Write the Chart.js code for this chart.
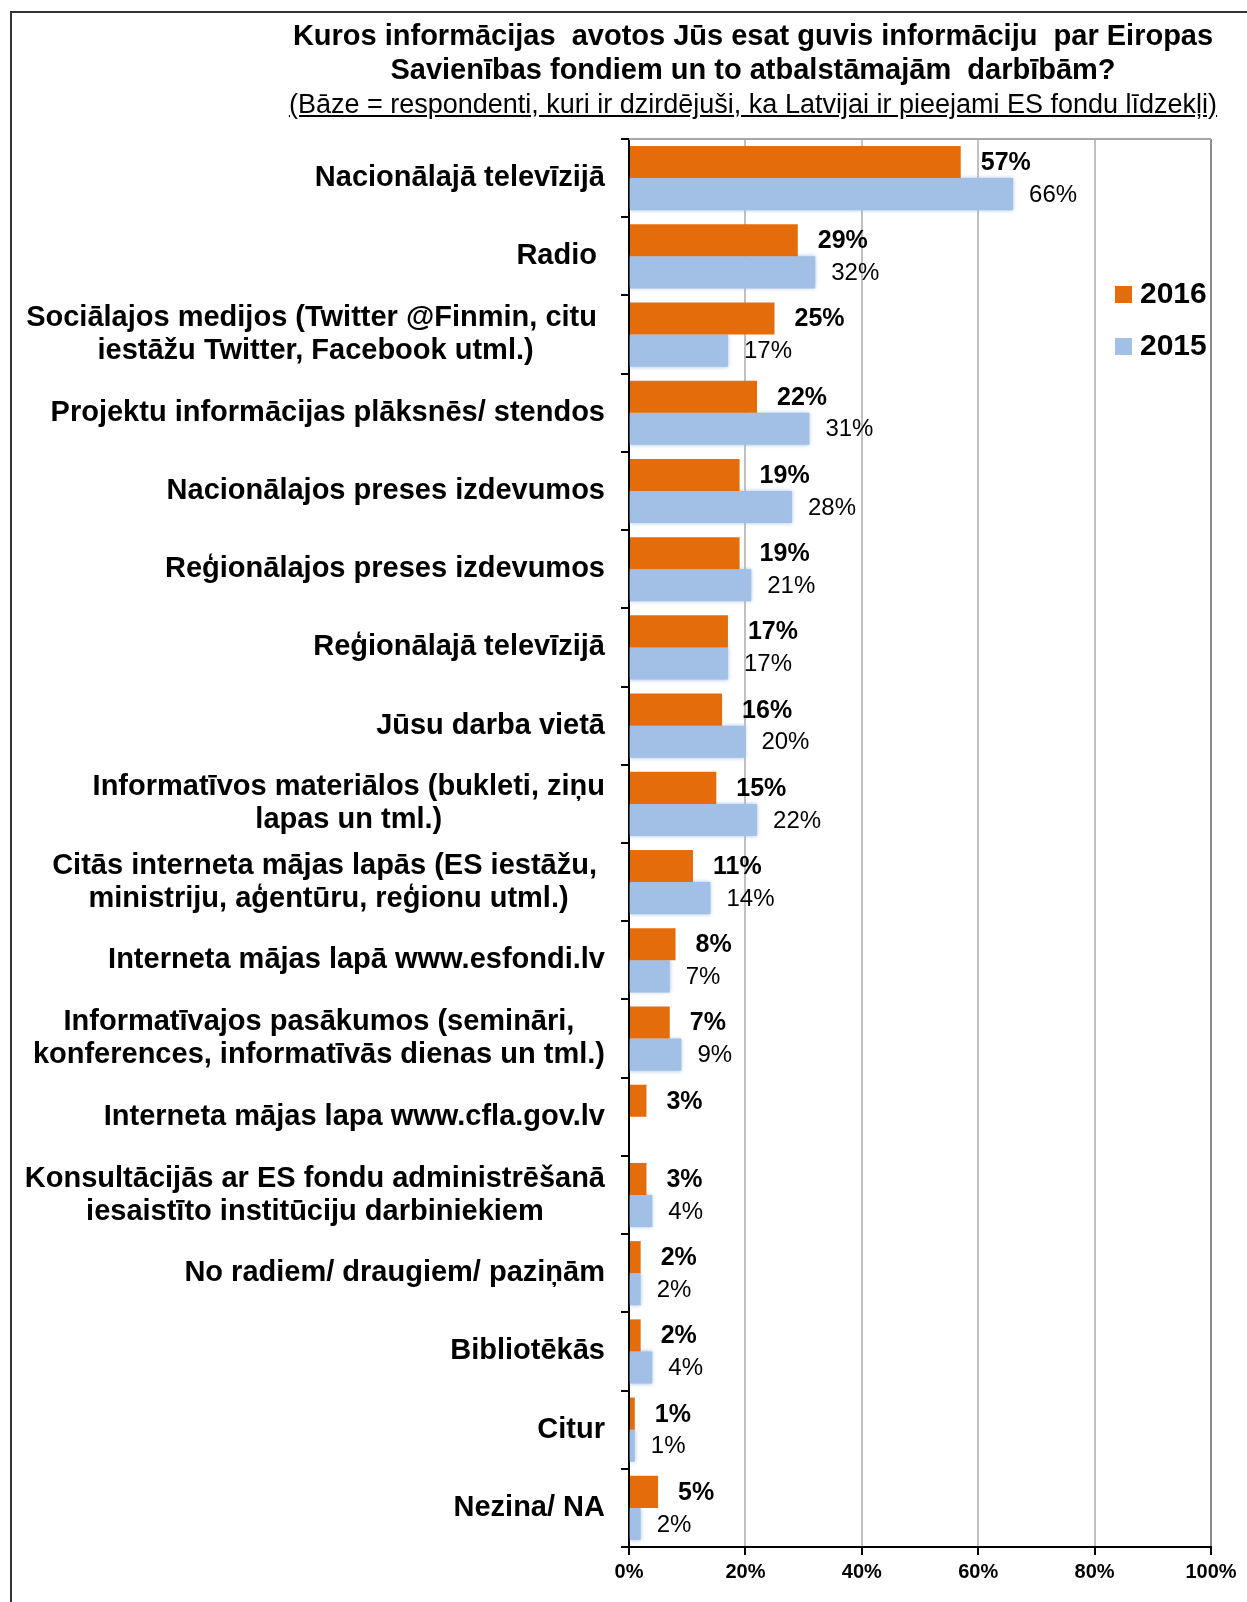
<!DOCTYPE html>
<html>
<head>
<meta charset="utf-8">
<script src="https://cdn.jsdelivr.net/npm/chart.js@4.4.1/dist/chart.umd.min.js"></script>
<style>
  body { margin: 0; background: #fff; font-family: "Liberation Sans", Arial, sans-serif; }
  #wrap { position: relative; width: 1247px; height: 1602px; overflow: hidden; }
  #frame { position: absolute; left: 10px; top: 11px; width: 1400px; height: 1800px; border-left: 2px solid #333; border-top: 2px solid #333; }
  #chartBox { position: absolute; left: 0; top: 0; width: 1247px; height: 1602px; }
  #title { position: absolute; left: 209px; width: 1088px; top: 18px; text-align: center; font-weight: bold; font-size: 29px; line-height: 34px; color: #000; white-space: pre; }
  #sub { font-weight: normal; font-size: 27px; line-height: 32px; text-decoration: underline; }
  .leg { position: absolute; left: 1115px; height: 34px; font-size: 30px; font-weight: bold; line-height: 34px; color: #000; }
  .leg span { display: inline-block; width: 17px; height: 17px; margin-right: 8px; vertical-align: 0px; }
</style>
</head>
<body>
<div id="wrap">
  <div id="frame"></div>
  <div id="chartBox"><canvas id="myChart"></canvas></div>
  <div id="title">Kuros informācijas  avotos Jūs esat guvis informāciju  par Eiropas
Savienības fondiem un to atbalstāmajām  darbībām?
<span id="sub">(Bāze = respondenti, kuri ir dzirdējuši, ka Latvijai ir pieejami ES fondu līdzekļi)</span></div>
  <div id="legend"></div>
</div>
<script>
// data
const categories = [
  ["Nacionālajā televīzijā"],
  ["Radio "],
  ["Sociālajos medijos (Twitter @Finmin, citu ", "iestāžu Twitter, Facebook utml.)"],
  ["Projektu informācijas plāksnēs/ stendos"],
  ["Nacionālajos preses izdevumos"],
  ["Reģionālajos preses izdevumos"],
  ["Reģionālajā televīzijā"],
  ["Jūsu darba vietā"],
  ["Informatīvos materiālos (bukleti, ziņu", "lapas un tml.)"],
  ["Citās interneta mājas lapās (ES iestāžu, ", "ministriju, aģentūru, reģionu utml.)"],
  ["Interneta mājas lapā www.esfondi.lv"],
  ["Informatīvajos pasākumos (semināri,", "konferences, informatīvās dienas un tml.)"],
  ["Interneta mājas lapa www.cfla.gov.lv"],
  ["Konsultācijās ar ES fondu administrēšanā", "iesaistīto institūciju darbiniekiem"],
  ["No radiem/ draugiem/ paziņām"],
  ["Bibliotēkās"],
  ["Citur"],
  ["Nezina/ NA"]
];
const seriesNames = ["2016", "2015"];
const values2016 = [57, 29, 25, 22, 19, 19, 17, 16, 15, 11, 8, 7, 3, 3, 2, 2, 1, 5];
const values2015 = [66, 32, 17, 31, 28, 21, 17, 20, 22, 14, 7, 9, null, 4, 2, 4, 1, 2];
const xTicks = [0, 20, 40, 60, 80, 100];

const orange = "#E46C0A";
const blue = "#A2C0E5";
const FONT = '"Liberation Sans", Arial, sans-serif';

// legend (html)
let legend = document.getElementById("legend");
[orange, blue].forEach((c, i) => {
  let d = document.createElement("div");
  d.className = "leg";
  d.style.top = (276 + i * 52) + "px";
  d.innerHTML = '<span style="background:' + c + '"></span>' + seriesNames[i];
  legend.appendChild(d);
});

// category labels: block right aligned, lines centered in block
const categoryLabels = {
  id: "categoryLabels",
  afterDraw(chart) {
    const ctx = chart.ctx;
    const y = chart.scales.y;
    ctx.save();
    ctx.font = "bold 29px " + FONT;
    ctx.fillStyle = "#000";
    ctx.textAlign = "center";
    ctx.textBaseline = "middle";
    categories.forEach((lines, i) => {
      const cy = y.getPixelForValue(i);
      const w = Math.max(...lines.map(l => ctx.measureText(l).width));
      const cx = 605 - w / 2;
      lines.forEach((l, j) => {
        ctx.fillText(l, cx, cy + (j - (lines.length - 1) / 2) * 33);
      });
    });
    ctx.restore();
  }
};

// value labels next to bars
const valueLabels = {
  id: "valueLabels",
  afterDatasetsDraw(chart) {
    const ctx = chart.ctx;
    ctx.save();
    ctx.fillStyle = "#000";
    ctx.textAlign = "left";
    ctx.textBaseline = "middle";
    chart.data.datasets.forEach((ds, di) => {
      const meta = chart.getDatasetMeta(di);
      ctx.font = (di === 0 ? "bold 25px " : "24px ") + FONT;
      meta.data.forEach((bar, i) => {
        if (ds.data[i] == null) return;
        ctx.fillText(ds.data[i] + "%", bar.x + (di === 0 ? 20 : 16), bar.y + 1);
      });
    });
    ctx.restore();
  }
};

// soft edge on the 2015 bars + top border of plot
const extras = {
  id: "extras",
  beforeDatasetDraw(chart, args) {
    if (args.index === 1) {
      chart.ctx.save();
      chart.ctx.shadowColor = "rgba(150,185,228,0.9)";
      chart.ctx.shadowBlur = 4;
    }
  },
  afterDatasetDraw(chart, args) {
    if (args.index === 1) chart.ctx.restore();
  },
  beforeDatasetsDraw(chart) {
    const a = chart.chartArea;
    const ctx = chart.ctx;
    ctx.save();
    ctx.strokeStyle = "#a6a6a6";
    ctx.lineWidth = 2;
    ctx.beginPath();
    ctx.moveTo(a.left, a.top);
    ctx.lineTo(a.right, a.top);
    ctx.stroke();
    ctx.restore();
  }
};

const ctx = document.getElementById("myChart");

new Chart(ctx, {
  type: "bar",
  data: {
    labels: categories,
    datasets: [
      { label: seriesNames[0], data: values2016, backgroundColor: orange },
      { label: seriesNames[1], data: values2015, backgroundColor: blue }
    ]
  },
  plugins: [categoryLabels, valueLabels, extras],
  options: {
    indexAxis: "y",
    responsive: true,
    maintainAspectRatio: false,
    animation: false,
    categoryPercentage: 0.82,
    barPercentage: 1.0,
    layout: { padding: { top: 139, right: 36, bottom: 0, left: 0 } },
    plugins: {
      legend: { display: false },
      tooltip: { enabled: false }
    },
    scales: {
      x: {
        min: 0,
        max: 100,
        afterBuildTicks: (s) => { s.ticks = xTicks.map(v => ({ value: v })); },
        afterFit: (s) => { s.height = 55; },
        ticks: {
          color: "#000",
          font: { family: FONT, size: 20, weight: "bold" },
          padding: 5,
          callback: (v) => v + "%"
        },
        grid: {
          color: (c) => (c.tick && c.tick.value === 100 ? "#8c8c8c" : "#c0c0c0"),
          lineWidth: 2,
          tickColor: "#000",
          tickLength: 8
        },
        border: { color: "#000", width: 2 }
      },
      y: {
        afterFit: (s) => { s.width = 629; },
        ticks: { display: false },
        grid: {
          drawOnChartArea: false,
          color: "#000",
          lineWidth: 2,
          tickLength: 8
        },
        border: { color: "#000", width: 2 }
      }
    }
  }
});
</script>
</body>
</html>
